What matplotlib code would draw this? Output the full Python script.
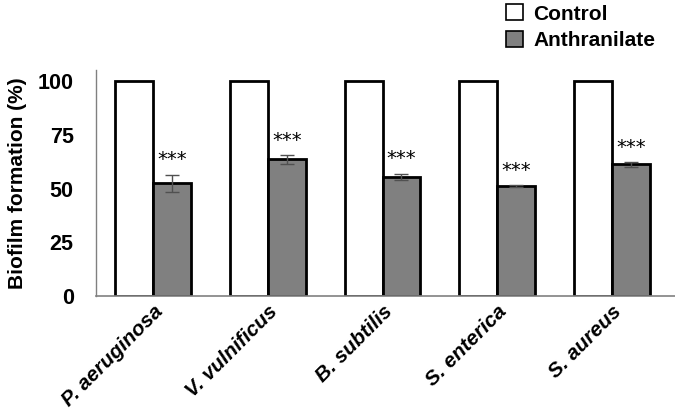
import numpy as np
import matplotlib.pyplot as plt

plt.rcParams['font.family'] = ['Liberation Sans', 'DejaVu Sans']

# data
species = ["P. aeruginosa", "V. vulnificus", "B. subtilis", "S. enterica", "S. aureus"]
control = [100, 100, 100, 100, 100]
anthranilate = [52.5, 63.5, 55.5, 51.2, 61.2]
anthr_err = [4.0, 2.0, 1.4, 0.5, 1.0]
stars = ["***", "***", "***", "***", "***"]

x = np.arange(len(species))
w = 0.33

fig = plt.figure(figsize=(6.75, 4.13), dpi=100)
ax = fig.add_axes([0.142, 0.283, 0.858, 0.547])

ax.bar(x - w / 2, control, w, color="white", edgecolor="black", linewidth=2, label="Control", zorder=2)
ax.bar(x + w / 2, anthranilate, w, color="#808080", edgecolor="black", linewidth=2,
       label="Anthranilate", zorder=2)
ax.errorbar(x + w / 2, anthranilate, yerr=anthr_err, fmt="none", ecolor="#505050",
            elinewidth=1, capsize=5, capthick=1, zorder=3)
for xi, v, e, s in zip(x, anthranilate, anthr_err, stars):
    ax.text(xi + w / 2, v + e + 2.5, s, ha="center", va="bottom", fontsize=14,
            family="DejaVu Sans")

ax.set_xlim(-0.5, 4.55)
ax.set_ylim(0, 105)
ax.set_yticks([0, 25, 50, 75, 100])
ax.tick_params(axis="y", length=0, pad=16, labelsize=15.5)
ax.tick_params(axis="x", length=0, pad=4)
for t in ax.get_yticklabels():
    t.set_fontweight("bold")
ax.set_xticks(x)
ax.set_xticklabels(species, rotation=45, ha="right", rotation_mode="anchor",
                   fontsize=15, fontweight="bold", fontstyle="italic")
ax.set_ylabel("Biofilm formation (%)", fontsize=15, fontweight="bold", labelpad=8)

for side in ["top", "right"]:
    ax.spines[side].set_visible(False)
ax.spines["left"].set_color("#808080")
ax.spines["bottom"].set_color("#808080")
ax.spines["left"].set_linewidth(1)
ax.spines["bottom"].set_linewidth(1.2)

leg = fig.legend(loc="upper left", bbox_to_anchor=(0.722, 1.035), frameon=False,
                 prop={"weight": "bold", "size": 15}, handlelength=0.8, handleheight=0.8,
                 handletextpad=0.5, labelspacing=0.35)
for h in leg.legend_handles:
    h.set_linewidth(1.2)

fig.savefig("out.png", dpi=100)
